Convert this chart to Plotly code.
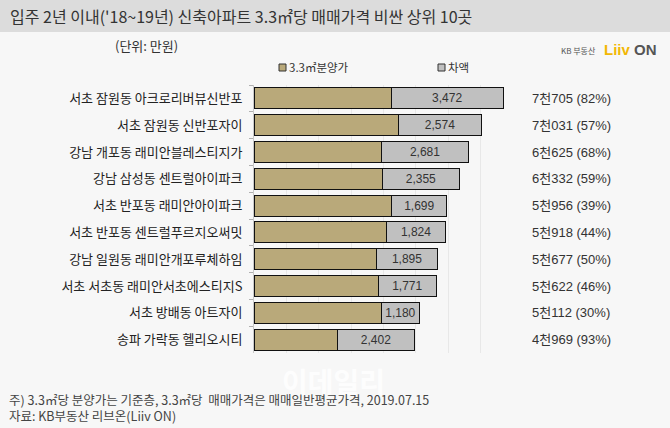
import plotly.graph_objects as go

categories = ["서초 잠원동 아크로리버뷰신반포", "서초 잠원동 신반포자이", "강남 개포동 래미안블레스티지가",
              "강남 삼성동 센트럴아이파크", "서초 반포동 래미안아이파크", "서초 반포동 센트럴푸르지오써밋",
              "강남 일원동 래미안개포루체하임", "서초 서초동 래미안서초에스티지S", "서초 방배동 아트자이",
              "송파 가락동 헬리오시티"]
sale_price = [4233, 4457, 3944, 3977, 4257, 4094, 3782, 3851, 3932, 2567]
difference = [3472, 2574, 2681, 2355, 1699, 1824, 1895, 1771, 1180, 2402]
market_price = [7705, 7031, 6625, 6332, 5956, 5918, 5677, 5622, 5112, 4969]
pct = [82, 57, 68, 59, 39, 44, 50, 46, 30, 93]
series_names = ["3.3㎡분양가", "차액"]
series_colors = ["#b9a97a", "#c0c0c0"]

W_, H_ = 670, 428
L, R, T, B = 254, 513, 85, 353
def xp(px): return (px - L) / (R - L)
def yp(py): return (B - py) / (B - T)

FONT = "Noto Sans CJK KR"
NUMFONT = "Liberation Sans, Noto Sans CJK KR"
fig = go.Figure()
fig.add_trace(go.Bar(y=categories, x=sale_price, orientation="h", name=series_names[0],
                     marker=dict(color=series_colors[0], line=dict(color="#111111", width=1)),
                     hoverinfo="x", showlegend=False))
fig.add_trace(go.Bar(y=categories, x=difference, orientation="h", name=series_names[1],
                     marker=dict(color=series_colors[1], line=dict(color="#111111", width=1)),
                     texttemplate="%{x:,}", textposition="inside", insidetextanchor="middle",
                     textfont=dict(size=12, color="#333333", family=NUMFONT), constraintext="none",
                     showlegend=False))

annotations = []
for c, m, p in zip(categories, market_price, pct):
    annotations.append(dict(x=xp(571), xref="paper", y=c, yref="y", xanchor="center",
                            text=f"{m // 1000}천{m % 1000:03d} ({p}%)", showarrow=False,
                            font=dict(size=13, color="#333333", family=NUMFONT)))

shapes = [dict(type="rect", xref="paper", yref="paper", x0=xp(0), x1=xp(670), y0=yp(32), y1=yp(0),
               fillcolor="#dcdcdc", line=dict(width=0), layer="below")]
# legend (drawn manually to match the reference spacing)
legend_x = [279, 438]
for nm, col, lx in zip(series_names, series_colors, legend_x):
    shapes.append(dict(type="rect", xref="paper", yref="paper", x0=xp(lx), x1=xp(lx + 7),
                       y0=yp(71), y1=yp(64), fillcolor=col, line=dict(color="#333333", width=1)))
    annotations.append(dict(x=xp(lx + 8), y=yp(67.5), xref="paper", yref="paper", xanchor="left",
                            yanchor="middle", text=nm, showarrow=False,
                            font=dict(size=11.5, color="#333333", family=FONT)))

annotations += [
    dict(x=xp(8), y=yp(16), xref="paper", yref="paper", xanchor="left", yanchor="middle",
         text="입주 2년 이내('18~19년) 신축아파트 3.3㎡당 매매가격 비싼 상위 10곳", showarrow=False,
         font=dict(size=16, color="#333333", family=FONT)),
    dict(x=xp(113), y=yp(45), xref="paper", yref="paper", xanchor="left", yanchor="middle",
         text="(단위: 만원)", showarrow=False, font=dict(size=13, color="#333333", family=FONT)),
    dict(x=xp(598), y=yp(51), xref="paper", yref="paper", xanchor="right", yanchor="middle",
         text="KB 부동산", showarrow=False, font=dict(size=8, color="#555555", family=FONT)),
    dict(x=xp(602), y=yp(50), xref="paper", yref="paper", xanchor="left", yanchor="middle",
         text="<b><span style='color:#f2b705'>Liiv</span> <span style='color:#555555'>ON</span></b>",
         showarrow=False, font=dict(size=15, color="#f2b705", family="Liberation Sans")),
    dict(x=xp(333), y=yp(381), xref="paper", yref="paper", xanchor="center", yanchor="middle",
         text="<b>이데일리</b>", showarrow=False,
         font=dict(size=28, color="rgba(255,255,255,0.8)", family=FONT)),
    dict(x=xp(7), y=yp(399), xref="paper", yref="paper", xanchor="left", yanchor="middle",
         text="주) 3.3㎡당 분양가는 기준층, 3.3㎡당  매매가격은 매매일반평균가격, 2019.07.15", showarrow=False,
         font=dict(size=12.5, color="#444444", family=FONT)),
    dict(x=xp(7), y=yp(415), xref="paper", yref="paper", xanchor="left", yanchor="middle",
         text="자료: KB부동산 리브온(Liiv ON)", showarrow=False,
         font=dict(size=12.5, color="#444444", family=FONT)),
]

fig.update_layout(
    width=W_, height=H_, barmode="stack", bargap=0.22,
    margin=dict(l=L, r=W_ - R, t=T, b=H_ - B, pad=0, autoexpand=False),
    paper_bgcolor="#f7f7f7", plot_bgcolor="#f7f7f7",
    font=dict(family=FONT, size=12, color="#222222"),
    showlegend=False,
    xaxis=dict(range=[0, 8000], dtick=1000, showgrid=True, gridcolor="#e8e8e8", gridwidth=1,
               showticklabels=False, zeroline=False, showline=False, fixedrange=True, automargin=False),
    yaxis=dict(autorange="reversed", showline=True, linecolor="#c8c8c8", ticks="outside",
               tickson="boundaries", ticklen=4, tickcolor="#b0b0b0", ticklabelstandoff=8,
               automargin=False, tickfont=dict(size=13, color="#222222", family=FONT)),
    shapes=shapes,
    annotations=annotations,
)
fig.write_html("out.html", config={"displayModeBar": False},
               post_script="document.body.style.margin='0';document.body.style.padding='0';"
                           "document.body.style.overflow='hidden';")
